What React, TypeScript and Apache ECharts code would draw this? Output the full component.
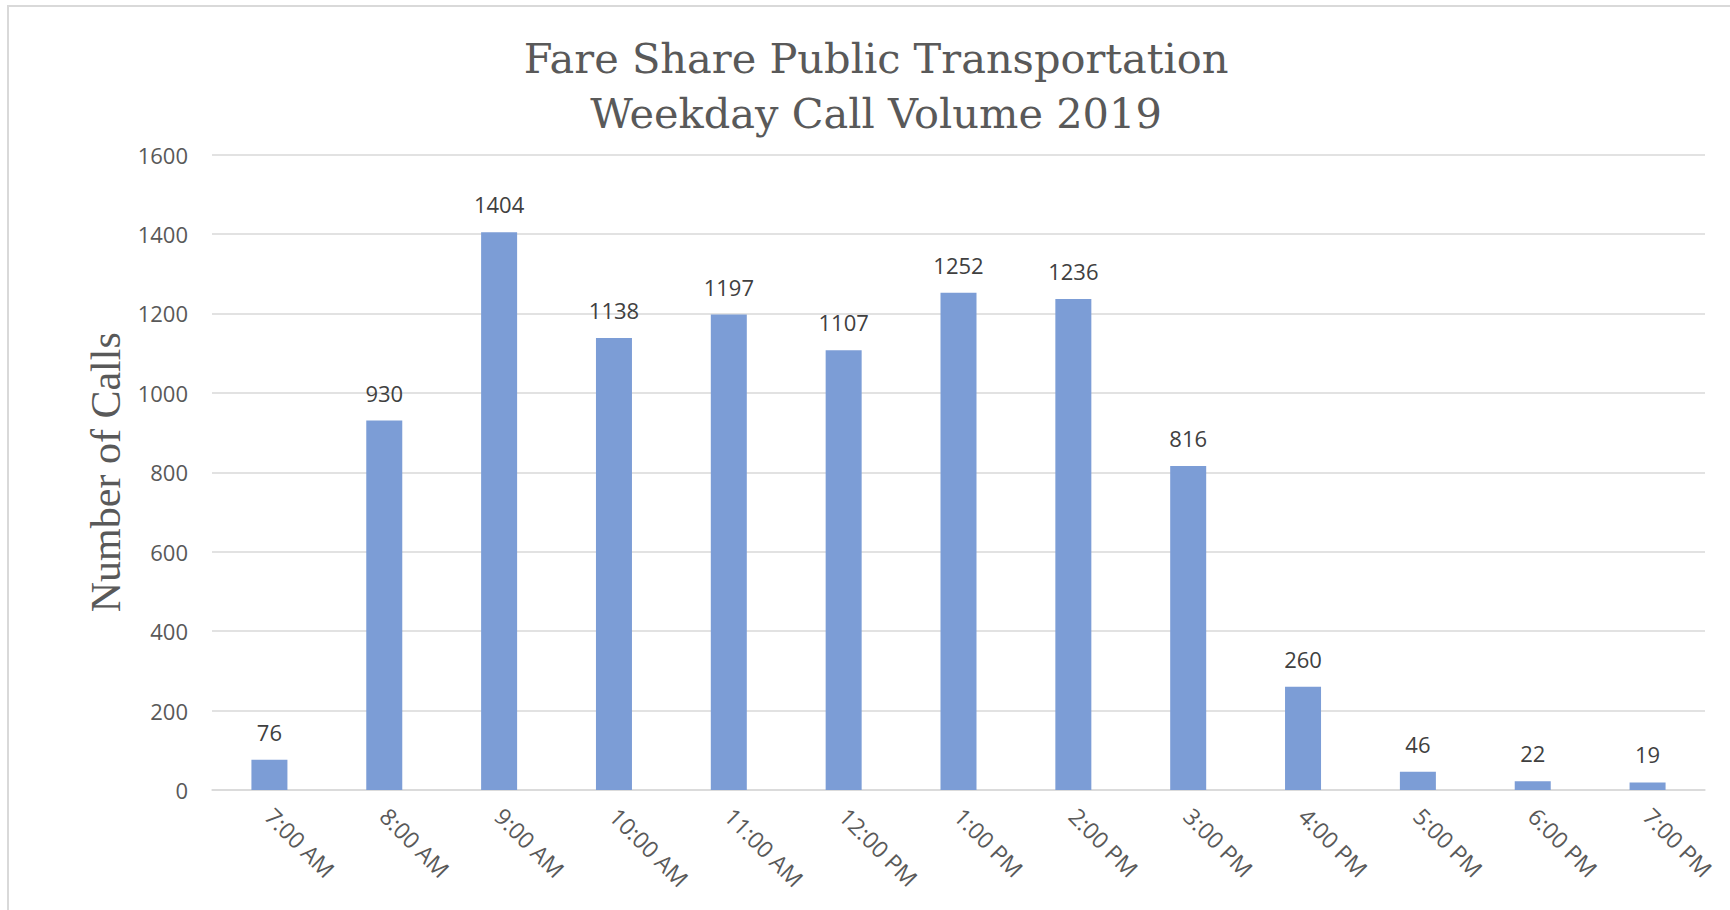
import React, { useEffect, useRef } from "react";
import * as echarts from "echarts";

const categories = [
  "7:00 AM", "8:00 AM", "9:00 AM", "10:00 AM", "11:00 AM", "12:00 PM",
  "1:00 PM", "2:00 PM", "3:00 PM", "4:00 PM", "5:00 PM", "6:00 PM", "7:00 PM",
];
const calls = [76, 930, 1404, 1138, 1197, 1107, 1252, 1236, 816, 260, 46, 22, 19];
const titleLines = ["Fare Share Public Transportation", "Weekday Call Volume 2019"];
const yAxisName = "Number of Calls";

export default function App() {
  const ref = useRef<HTMLDivElement>(null);
  useEffect(() => {
    if (!ref.current) return;
    const chart = echarts.init(ref.current, null, { renderer: "svg" });
    chart.setOption({
      animation: false,
      backgroundColor: "#ffffff",
      title: {
        text: titleLines.join("\n"),
        left: 871,
        top: 26,
        textAlign: "center",
        textStyle: {
          fontFamily: "DejaVu Serif",
          fontSize: 41.5,
          lineHeight: 55,
          fontWeight: "normal",
          color: "#595959",
        },
      },
      graphic: [
        {
          type: "rect",
          shape: { x: 8, y: 6, width: 2000, height: 2000 },
          style: { fill: "none", stroke: "#d9d9d9", lineWidth: 2 },
          silent: true,
        },
      ],
      grid: { left: 212, right: 25, top: 154.5, bottom: 120 },
      xAxis: {
        type: "category",
        data: categories,
        axisLine: { show: true, lineStyle: { color: "#d9d9d9", width: 1.5 } },
        axisTick: { show: false },
        axisLabel: {
          rotate: -45,
          margin: 22,
          fontFamily: "Open Sans",
          fontSize: 23,
          color: "#595959",
        },
      },
      yAxis: {
        type: "value",
        min: 0,
        max: 1600,
        interval: 200,
        name: yAxisName,
        nameLocation: "middle",
        nameGap: 85,
        nameTextStyle: {
          fontFamily: "Liberation Serif",
          fontSize: 42,
          color: "#595959",
        },
        axisLine: { show: false },
        axisTick: { show: false },
        axisLabel: {
          margin: 24,
          fontFamily: "Open Sans",
          fontSize: 22,
          color: "#595959",
          formatter: (v: number) => String(v),
        },
        splitLine: { lineStyle: { color: "#d9d9d9", width: 1.5 } },
      },
      series: [
        {
          type: "bar",
          data: calls,
          barWidth: 36,
          itemStyle: { color: "#7c9dd6" },
          label: {
            show: true,
            position: "top",
            distance: 17,
            fontFamily: "Open Sans",
            fontSize: 22,
            color: "#404040",
          },
        },
      ],
    });
    return () => chart.dispose();
  }, []);
  return (
    <div
      ref={ref}
      style={{ position: "fixed", left: 0, top: 0, width: 1730, height: 910 }}
    />
  );
}
